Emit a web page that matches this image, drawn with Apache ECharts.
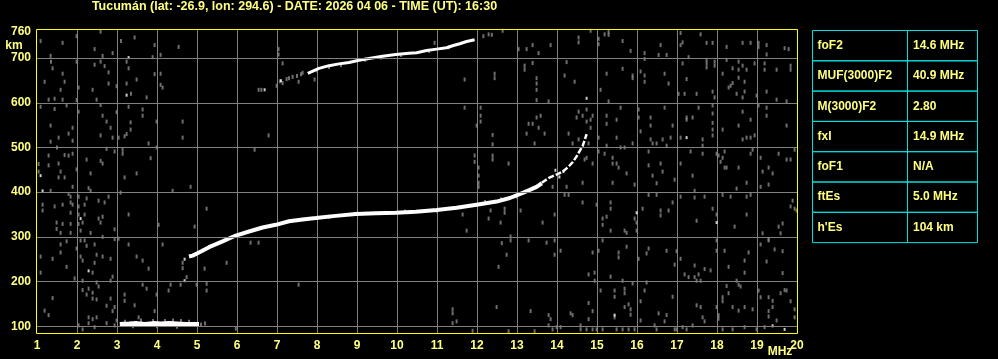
<!DOCTYPE html>
<html>
<head>
<meta charset="utf-8">
<script src="https://cdn.jsdelivr.net/npm/echarts@6/dist/echarts.min.js"></script>
<style>html,body{margin:0;padding:0;background:#000;}#c{width:998px;height:359px;}</style>
</head>
<body>
<div id="c"></div>
<script>
const titleText = 'Tucumán (lat: -26.9, lon: 294.6) - DATE: 2026 04 06 - TIME (UT): 16:30';
const xUnit = 'MHz';
const yUnit = 'km';
const yLabelValues = [100, 200, 300, 400, 500, 600, 700, 760];
const yGridValues = [100, 200, 300, 400, 500, 600, 700];
const tableLabels = ['foF2', 'MUF(3000)F2', 'M(3000)F2', 'fxI', 'foF1', 'ftEs', "h'Es"];
const tableValues = ['14.6 MHz', '40.9 MHz', '2.80', '14.9 MHz', 'N/A', '5.0 MHz', '104 km'];

// Sporadic E trace
const esTrace = [[3.07,104],[3.3,105],[3.5,106],[3.7,104],[3.9,106],[4.1,105],[4.3,106],[4.5,105],[4.7,104],[4.9,104],[5.05,104]];
// F trace (lower, thick part)
const fTrace = [[4.8,256],[4.89,258],[5.05,265],[5.3,277],[5.64,290],[5.97,303],[6.3,312],[6.64,321],[6.97,327],[7.3,335],[7.64,339],[7.97,342],[8.47,347],[8.97,351],[9.47,353],[9.97,354],[10.47,356],[10.99,360],[11.49,365],[11.99,372],[12.49,379],[12.82,387],[12.99,393],[13.16,399],[13.32,405],[13.49,412],[13.62,420]];
// F trace (near critical frequency)
const fTraceTop = [[13.62,421],[13.8,432],[14.0,440],[14.14,446],[14.29,457],[14.39,467],[14.49,480],[14.58,494],[14.64,503],[14.69,516],[14.74,530]];
// Second-hop trace
const hopTrace = [[7.77,666],[8.05,677],[8.3,683],[8.55,687],[8.8,690],[9.05,695],[9.3,699],[9.64,704],[9.97,708],[10.3,711],[10.49,712],[10.74,717],[10.99,720],[11.24,723],[11.41,728],[11.57,732],[11.74,737],[11.94,741]];

const noiseWhite = [[3.29,701],[3.24,617],[1.09,437],[1.14,403],[6.69,629],[7.1,649],[14.74,610],[17.24,522],[2.09,341],[2.29,224],[4.69,250],[4.69,202],[15.99,354],[17.99,332],[15.44,125],[19.39,101],[19.69,93],[13.96,449],[14.16,446],[14.06,434]];

const noiseGray = [
[1.09,738],[1.64,734],[1.99,749],[2.59,759],[3.44,746],[3.10,738],[2.44,720],[2.89,711],[2.64,705],[3.94,729],[4.54,725],[1.34,705],[3.89,702],[4.09,707],
[1.35,692],[1.39,677],[1.99,692],[2.44,685],[2.59,692],[2.69,682],[2.79,668],[3.24,692],[3.29,677],[1.64,665],[1.19,647],[1.69,647],[2.04,634],[1.59,629],[2.39,629],[2.79,643],[2.99,637],[3.24,643],[3.49,652],[3.94,664],[4.09,665],[4.09,640],[4.14,634],[3.35,620],[3.74,612],
[1.29,607],[1.44,609],[1.64,607],[1.99,606],[2.49,607],[1.09,591],[1.44,586],[1.74,594],[2.04,580],[2.59,595],[2.99,579],[3.29,591],[3.64,585],[3.64,571],[2.64,571],[2.74,558],[2.84,544],[3.34,556],[3.34,540],[3.24,530],[3.19,525],[3.04,522],[2.89,522],[2.59,527],[3.99,558],[4.64,558],[4.64,522],[1.34,549],[1.89,544],[1.79,531],[1.54,522],[1.89,515],[1.34,513],[3.79,509],
[1.50,500],[2.74,497],[2.94,491],[3.14,495],[3.14,486],[3.99,500],[1.29,482],[1.69,483],[1.79,482],[1.89,486],[2.24,473],[2.59,470],[2.64,464],[3.84,476],[1.04,463],[1.29,460],[1.54,464],[1.59,446],[1.04,446],[1.54,433],[1.69,433],[1.99,451],[2.34,442],[3.19,433],[3.49,442],
[6.54,629],[6.61,629],[6.79,527],[6.44,495],[7.04,720],[7.04,708],[7.14,688],[7.14,644],[7.24,653],[7.39,658],[7.54,647],[7.64,667],[7.94,652],[6.99,638],
[7.07,648],[7.3,655],[7.5,660],[7.6,664],[8.0,672],[8.3,680],[8.6,684],[9.2,696],[9.6,701],[10.1,707],[10.8,716],[11.3,724],
[12.16,749],[12.29,753],[12.37,752],[12.64,761],[14.54,746],[14.54,735],[14.84,761],[15.04,743],[15.04,731],[15.19,753],[15.29,759],[15.29,752],[15.64,738],[15.84,716],[16.19,711],[16.19,698],[16.54,707],[16.59,729],[16.74,707],[17.09,756],[17.14,735],[17.09,729],[17.29,702],[17.59,753],[17.74,734],[17.89,734],[18.24,725],[18.64,734],[18.84,734],[19.04,734],[19.04,725],[19.24,729],[19.24,708],[19.69,722],[19.79,720],[13.04,720],[13.24,720],[13.39,729],[13.54,711],[13.84,729],[10.94,734],
[11.69,652],[12.44,665],[12.44,655],[13.19,683],[13.19,674],[13.39,689],[13.49,655],[13.49,643],[13.49,629],[13.49,606],[13.79,603],[14.19,661],[14.24,691],[14.44,647],[15.09,629],[15.24,665],[15.29,603],[15.64,676],[15.89,661],[15.89,655],[16.09,670],[16.19,661],[16.19,647],[16.69,665],[16.79,643],[17.14,688],[17.24,653],[17.74,696],[17.74,688],[17.94,692],[17.94,683],[17.74,679],[18.14,665],[18.24,696],[18.39,677],[18.39,644],[18.54,692],[18.54,674],[18.54,656],[18.64,683],[18.74,674],[18.69,647],[18.94,688],[19.19,688],[19.19,674],[19.49,674],[19.84,683],[19.84,674],[19.24,625],[18.69,625],[18.49,620],[18.64,612],[18.99,616],[19.49,607],[19.74,603],[17.89,625],[17.94,612],[17.49,620],[17.19,620],[17.04,620],[18.34,638],[18.29,634],
[11.69,589],[12.09,589],[12.09,571],[12.09,558],[11.99,549],[12.39,528],[12.39,507],[11.94,482],[11.94,468],[12.04,455],[12.04,437],[12.39,482],[12.39,473],[12.79,464],[13.29,553],[13.39,553],[13.49,567],[13.59,571],[13.69,531],[13.54,544],[13.24,531],[13.44,509],[14.29,531],[14.49,567],[14.54,580],[14.64,571],[14.74,585],[14.74,558],[14.84,562],[14.84,544],[14.89,571],[14.54,518],[14.79,509],[14.39,509],[14.74,477],[14.69,473],[14.89,464],[15.04,522],[15.04,491],[15.24,571],[15.24,553],[15.24,504],[15.49,562],[15.49,522],[15.59,589],[15.59,500],[15.69,500],[15.89,509],[16.04,585],[16.04,567],[16.09,536],[16.34,567],[16.34,549],[16.34,518],[16.39,509],[16.49,509],[16.64,518],[16.69,589],[16.74,504],[16.84,522],[16.89,549],[17.09,522],[17.24,567],[17.24,562],[17.39,567],[17.54,589],[17.64,518],[17.64,504],[17.89,594],[17.89,576],[17.89,555],[17.89,540],[17.89,527],[18.14,540],[18.54,549],[18.64,580],[18.84,562],[18.74,522],[18.64,518],[18.84,522],[18.94,527],[19.04,594],[19.24,589],[19.24,571],[19.74,549],
[15.19,486],[15.39,477],[15.39,464],[15.54,455],[15.49,464],[15.74,442],[16.29,491],[16.29,460],[16.59,464],[16.64,446],[16.39,437],[17.34,491],[17.64,486],[17.39,437],[17.09,464],[16.94,428],[17.99,486],[18.04,482],[18.19,491],[18.14,477],[18.09,468],[18.19,455],[18.24,455],[18.54,455],[18.84,486],[18.89,495],[19.09,477],[19.14,446],[19.29,455],[19.39,442],[19.54,486],[19.74,473],[19.84,473],[19.94,495],
[1.34,403],[1.89,412],[2.29,409],[2.34,403],[1.79,396],[1.84,390],[2.04,390],[2.24,386],[2.54,381],[2.69,377],[2.79,390],[1.14,372],[1.44,368],[1.64,372],[1.84,377],[1.89,372],[2.04,368],[2.19,372],[1.14,359],[1.84,354],[2.04,350],[2.19,350],[2.64,345],[2.54,341],[2.59,332],[1.49,332],[1.64,329],[1.84,329],[2.04,329],[2.14,332],[1.49,318],[1.59,309],[1.84,309],[2.09,314],[2.34,309],[2.64,300],[2.94,317],[2.94,295],[3.04,296],[2.09,292],[2.19,292],[1.74,290],[1.59,283],[2.24,280],[2.44,283],[1.99,274],[1.59,265],[2.49,260],[2.64,256],[2.84,251],[1.09,256],[1.39,251],[2.14,247],[2.44,242],[2.09,256],[1.74,233],[1.09,220],[2.39,220],[2.89,211],[2.84,202],[1.94,207],[2.14,202],[2.49,198],[2.54,189],[2.14,181],[2.29,184],[2.39,175],[2.24,171],[2.39,162],[2.49,160],[2.84,162],[1.39,163],[2.74,146],[2.94,143],[2.89,134],[1.19,135],[1.29,125],[2.29,120],[2.39,116],[2.49,120],[2.74,107],[2.04,102],[2.29,107],[2.44,98],[2.14,93],[2.94,102],
[3.09,399],[3.29,350],[3.29,283],[3.49,256],[3.64,247],[3.79,229],[3.64,193],[3.74,184],[3.19,171],[3.19,157],[3.44,147],[3.99,171],[3.94,134],[3.54,120],[2.99,113],[4.34,193],[4.29,180],[4.59,193],[4.99,193],[5.24,195],[5.24,180],[5.19,229],[5.74,242],[7.54,193],[4.64,242],[4.74,210],[4.64,230],[4.14,283],[4.04,327],[4.39,403],[4.84,412],[5.24,363],[4.94,323],[6.34,287],[6.54,287],[5.97,95],
[3.6,113],[3.9,112],[4.2,112],[4.4,113],[4.6,112],[4.8,110],[5.1,104],[5.2,106],[3.2,110],[3.4,100],[4.0,100],[4.5,99],
[8.3,345],[9.0,352],[10.2,357],[11.0,358],[12.2,378],[12.6,384],[13.0,390],
[12.04,421],[12.04,412],[13.89,412],[14.24,412],[14.64,421],[15.39,421],[15.94,417],[16.49,420],[17.44,403],[17.69,390],[18.14,394],[18.34,390],[18.49,408],[18.74,421],[19.09,412],[19.29,417],[18.84,394],[18.74,390],[14.19,394],[14.29,394],[14.64,377],[15.34,377],[15.34,363],[14.99,372],[15.14,341],[15.14,327],[15.24,345],[15.34,314],[15.69,314],[15.74,309],[15.94,341],[15.99,332],[15.99,314],[16.14,363],[16.29,394],[16.49,394],[16.59,359],[16.59,348],[16.89,377],[16.79,359],[17.09,390],[17.44,388],[17.49,336],[17.89,363],[17.99,350],[18.44,323],[18.74,350],[19.14,308],[19.29,295],[19.59,308],[19.54,323],[19.64,330],[19.94,363],[19.99,359],[19.84,368],[19.89,381],[13.94,350],[13.64,332],[11.74,314],[12.29,341],[12.59,332],[12.69,354],[12.69,363],[12.34,359],[13.09,359],[11.64,350],
[12.62,286],[12.84,301],[12.84,292],[13.29,292],[13.74,287],[13.94,292],[13.94,260],[12.74,260],[12.54,233],[14.09,269],[14.89,265],[15.04,269],[15.14,292],[15.54,265],[15.54,254],[15.74,278],[16.04,251],[16.24,263],[16.29,274],[16.74,269],[16.94,238],[16.99,268],[17.09,251],[17.19,216],[17.29,210],[17.44,210],[17.49,202],[17.59,202],[17.44,236],[17.54,216],[17.69,228],[17.84,225],[17.99,292],[17.99,269],[18.19,269],[18.29,233],[18.69,247],[18.79,265],[18.69,220],[19.09,283],[19.29,292],[19.44,272],[19.64,268],[19.64,219],[19.24,245],[18.49,202],[14.79,216],[14.94,220],[14.94,202],[15.34,211],[15.64,202],[15.89,196],[16.24,198],
[15.09,180],[15.44,180],[15.44,166],[15.69,184],[15.69,174],[16.19,180],[16.09,156],[15.79,149],[15.84,138],[15.69,143],[15.84,126],[15.44,120],[14.79,152],[14.89,134],[14.79,116],[14.34,129],[14.39,125],[13.79,125],[13.84,116],[13.79,102],[13.89,93],[13.99,98],[14.09,98],[14.59,102],[14.74,93],[14.89,93],[14.99,93],[15.14,93],[15.49,93],[15.64,93],[15.79,93],[15.94,93],[16.09,113],[16.44,102],[16.49,93],[16.54,129],[16.69,111],[16.74,125],[16.89,166],[16.94,93],[16.99,93],[17.14,98],[17.24,93],[17.39,102],[17.64,120],[17.69,111],[17.59,143],[17.49,147],[17.99,143],[18.04,125],[18.04,117],[18.14,165],[18.14,156],[18.24,190],[18.29,174],[18.54,193],[18.59,189],[18.39,143],[18.54,135],[18.69,143],[18.89,138],[19.04,180],[19.09,165],[19.29,165],[19.39,157],[19.39,143],[19.29,134],[19.29,122],[19.49,113],[19.59,174],[19.69,181],[19.74,180],[19.84,156],[19.94,138],[19.94,120],[19.19,98],[18.99,93],[18.69,98],[18.39,93],[18.14,93],[11.39,138],[11.39,129],[11.39,107],[11.49,111],[12.49,143],[13.34,134],[11.89,90],[12.79,89],[13.44,89],[14.59,93]
];

const FONT = 'Liberation Sans, Arial, sans-serif';
const TXT = '#ffff80';
const chart = echarts.init(document.getElementById('c'), null, {renderer: 'canvas'});

const graphics = [];
graphics.push({type: 'text', z: 100, style: {text: titleText, x: 294.5, y: 7, align: 'center', verticalAlign: 'middle', fill: TXT, font: 'bold 12.5px ' + FONT}});
graphics.push({type: 'text', z: 100, style: {text: yUnit, x: 14, y: 45.5, align: 'center', verticalAlign: 'middle', fill: TXT, font: 'bold 12px ' + FONT}});
graphics.push({type: 'text', z: 100, style: {text: xUnit, x: 780, y: 352, align: 'center', verticalAlign: 'middle', fill: TXT, font: 'bold 12px ' + FONT}});
graphics.push({type: 'rect', z: 100, shape: {x: 36.5, y: 29.5, width: 761, height: 304}, style: {fill: 'none', stroke: '#ffff00', lineWidth: 1}});
// table
const tX = 812.5, tW1 = 95, tW2 = 70, tY = 30.5, rowH = 30.3;
tableLabels.forEach((lab, i) => {
  const y = tY + i * rowH;
  graphics.push({type: 'rect', z: 100, shape: {x: tX, y: y, width: tW1, height: rowH}, style: {fill: 'none', stroke: '#00e0e0', lineWidth: 1}});
  graphics.push({type: 'rect', z: 100, shape: {x: tX + tW1, y: y, width: tW2, height: rowH}, style: {fill: 'none', stroke: '#00e0e0', lineWidth: 1}});
  graphics.push({type: 'text', z: 101, style: {text: lab, x: tX + 5, y: y + rowH / 2, verticalAlign: 'middle', fill: TXT, font: 'bold 12px ' + FONT}});
  graphics.push({type: 'text', z: 101, style: {text: tableValues[i], x: tX + tW1 + 5.5, y: y + rowH / 2, verticalAlign: 'middle', fill: TXT, font: 'bold 12px ' + FONT}});
});

chart.setOption({
  backgroundColor: '#000000',
  animation: false,
  grid: {left: 37, right: 201, top: 29, bottom: 26, show: false},
  xAxis: {
    type: 'value', min: 1, max: 20, interval: 1,
    axisLine: {show: false}, axisTick: {show: false},
    axisLabel: {color: TXT, fontWeight: 'bold', fontSize: 12, fontFamily: FONT, margin: 7},
    splitLine: {show: true, showMinLine: false, showMaxLine: false, lineStyle: {color: '#808080', width: 1}}
  },
  yAxis: {
    type: 'value', min: 85, max: 765,
    axisLine: {show: false}, axisTick: {show: false},
    axisLabel: {customValues: yLabelValues, color: TXT, fontWeight: 'bold', fontSize: 12, fontFamily: FONT, margin: 6},
    splitLine: {show: false}
  },
  graphic: graphics,
  series: [
    {type: 'scatter', z: 2, data: noiseGray, symbol: 'rect', symbolSize: [2, 4], itemStyle: {color: '#8a8a8a'}, silent: true,
      markLine: {silent: true, symbol: 'none', label: {show: false}, lineStyle: {color: '#808080', width: 1, type: 'solid'},
        data: yGridValues.map(v => ({yAxis: v}))}},
    {type: 'line', z: 3, data: esTrace, showSymbol: false, lineStyle: {color: '#ffffff', width: 5}, silent: true},
    {type: 'line', z: 3, data: fTrace, showSymbol: false, lineStyle: {color: '#ffffff', width: 4}, silent: true},
    {type: 'line', z: 3, data: fTraceTop, showSymbol: false, lineStyle: {color: '#ffffff', width: 2.5, type: [6, 2]}, silent: true},
    {type: 'line', z: 3, data: hopTrace, showSymbol: false, lineStyle: {color: '#ffffff', width: 3}, silent: true},
    {type: 'scatter', z: 4, data: noiseWhite, symbol: 'rect', symbolSize: [2, 3], itemStyle: {color: '#ffffff'}, silent: true}
  ]
});
</script>
</body>
</html>
